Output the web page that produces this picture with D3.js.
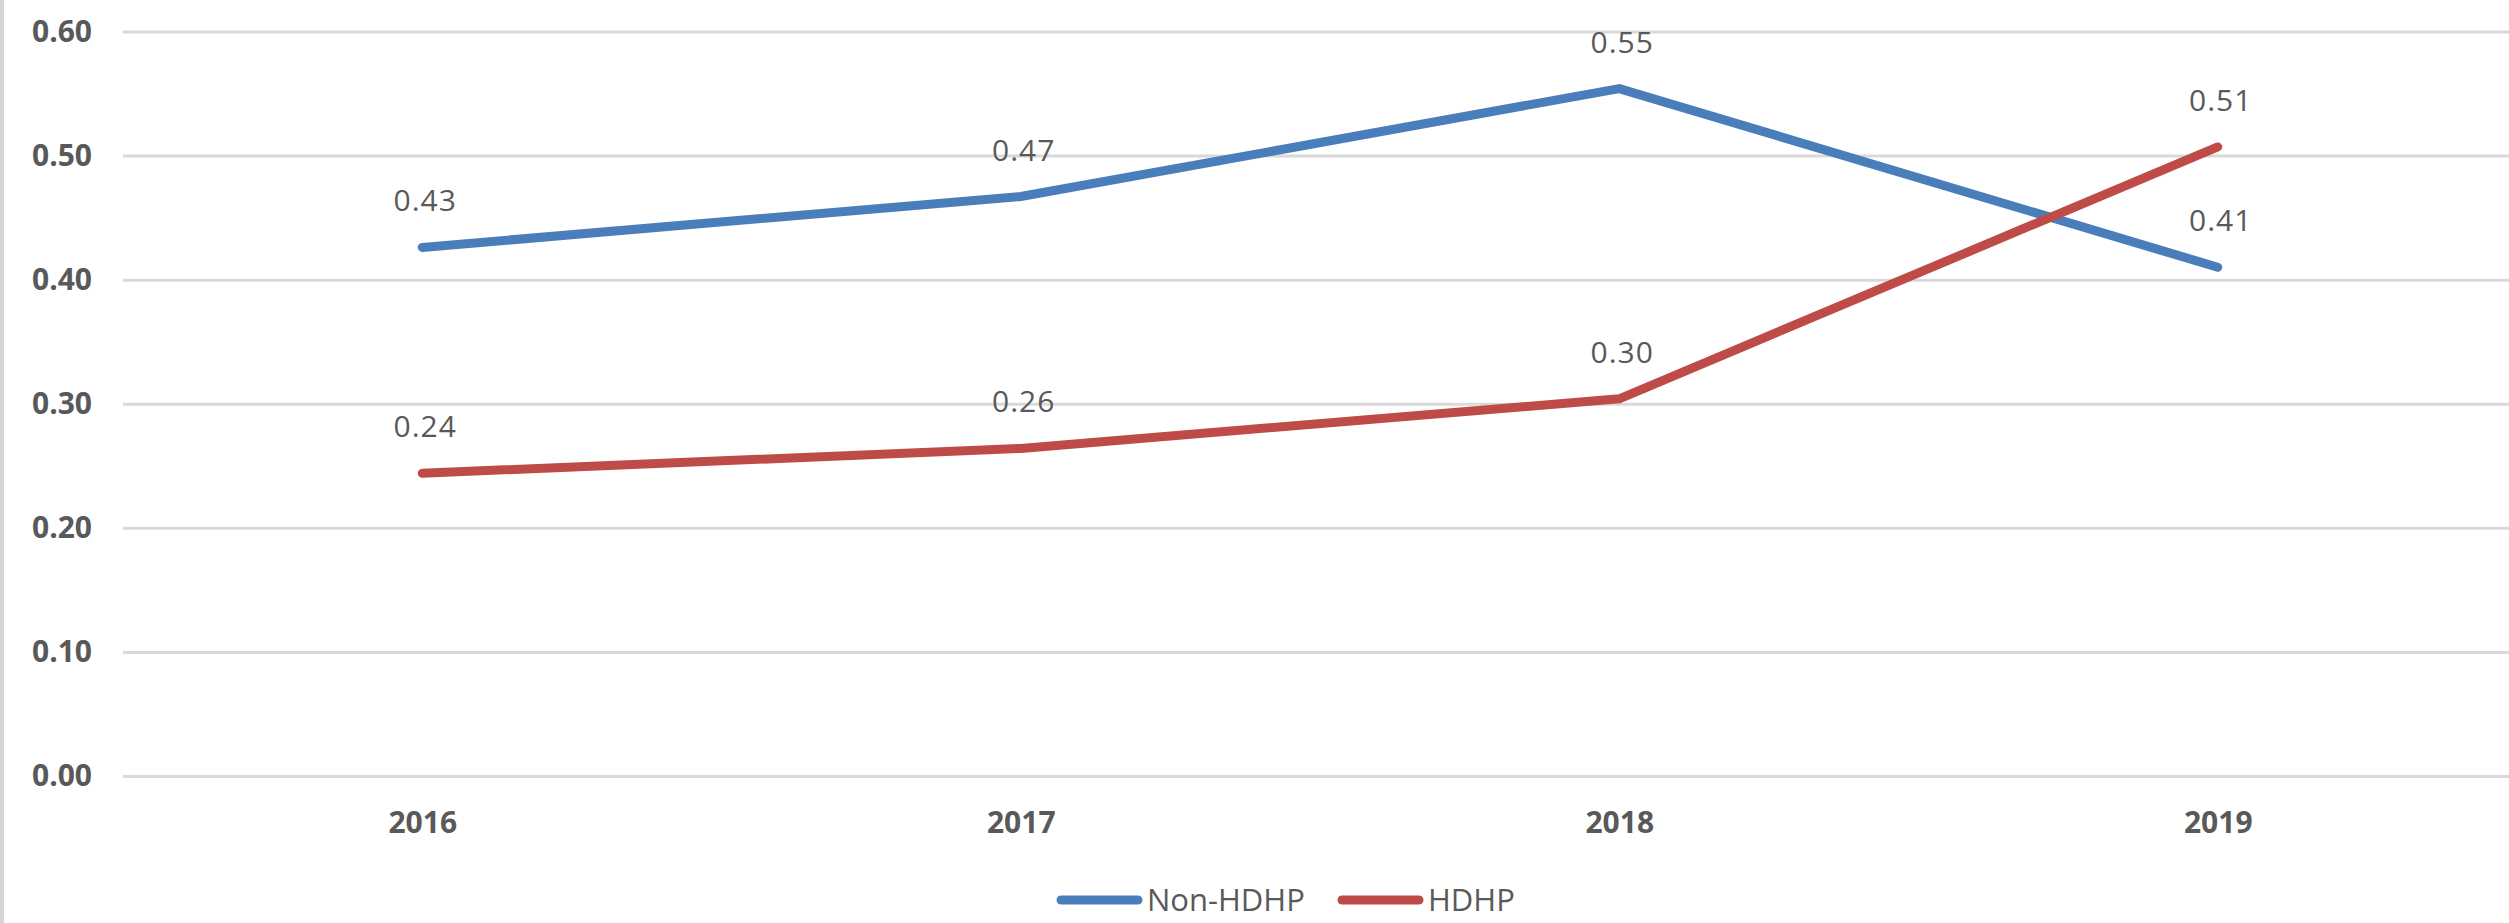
<!DOCTYPE html>
<html>
<head>
<meta charset="utf-8">
<script src="https://cdn.jsdelivr.net/npm/d3@7"></script>
<style>
  html, body { margin: 0; padding: 0; background: #ffffff; }
  svg { display: block; }
</style>
</head>
<body>
<svg id="chart" width="2509" height="923"></svg>
<script>
const categories = ["2016", "2017", "2018", "2019"];
const nonHdhp = [0.426, 0.467, 0.554, 0.410];
const hdhp = [0.244, 0.264, 0.304, 0.507];
const yTicks = [0, 0.1, 0.2, 0.3, 0.4, 0.5, 0.6];
const seriesNames = ["Non-HDHP", "HDHP"];
const seriesColors = ["#4A7EBB", "#BE4B48"];

(function () {
const W = 2509, H = 923;
const plotLeft = 123, plotRight = 2517, plotTop = 31.5, plotBottom = 776;
const font = "'Open Sans', 'Liberation Sans', sans-serif";
const textColor = "#595959";

const svg = d3.select("#chart");
svg.append("rect").attr("x", 0).attr("y", 0).attr("width", W).attr("height", H).attr("fill", "#fff");
// left border of the chart frame
svg.append("rect").attr("x", 0).attr("y", 0).attr("width", 4).attr("height", H).attr("fill", "#d4d4d4");

const x = d3.scalePoint().domain(categories).range([plotLeft, plotRight]).padding(0.5);
const y = d3.scaleLinear().domain([0, 0.6]).range([plotBottom, plotTop]);

// Y axis with gridlines
const yAxis = svg.append("g")
  .attr("transform", `translate(${plotLeft},0)`)
  .call(d3.axisLeft(y).tickValues(yTicks).tickFormat(d3.format(".2f"))
        .tickSize(-(W - plotLeft)).tickPadding(31));
yAxis.select(".domain").remove();
yAxis.selectAll(".tick line").attr("stroke", "#d9d9d9").attr("stroke-width", 3);
yAxis.selectAll(".tick text")
  .attr("fill", textColor).attr("font-family", font).attr("font-weight", "bold")
  .attr("font-size", 30);

// X axis labels
const xAxis = svg.append("g")
  .attr("transform", `translate(0,${plotBottom})`)
  .call(d3.axisBottom(x).tickSize(0).tickPadding(36));
xAxis.select(".domain").remove();
xAxis.selectAll(".tick text")
  .attr("fill", textColor).attr("font-family", font).attr("font-weight", "bold")
  .attr("font-size", 30);

const series = [nonHdhp, hdhp];
const line = d3.line().x((d, i) => x(categories[i])).y(d => y(d));

series.forEach((vals, si) => {
  svg.append("path")
    .datum(vals)
    .attr("d", line)
    .attr("fill", "none")
    .attr("stroke", seriesColors[si])
    .attr("stroke-width", 9)
    .attr("stroke-linecap", "round")
    .attr("stroke-linejoin", "round");
});

series.forEach((vals, si) => {
  svg.append("g").selectAll("text")
    .data(vals)
    .join("text")
    .attr("x", (d, i) => x(categories[i]) + 3)
    .attr("y", d => y(d) - 36)
    .attr("text-anchor", "middle")
    .attr("font-family", font)
    .attr("font-size", 30)
    .attr("letter-spacing", 1)
    .attr("fill", textColor)
    .text(d => d.toFixed(2));
});

// Legend
const legendY = 900;
const legendItems = [
  { name: seriesNames[0], color: seriesColors[0], x0: 1057 },
  { name: seriesNames[1], color: seriesColors[1], x0: 1338 }
];
const lg = svg.append("g");
legendItems.forEach(it => {
  lg.append("line")
    .attr("x1", it.x0 + 4).attr("x2", it.x0 + 81)
    .attr("y1", legendY).attr("y2", legendY)
    .attr("stroke", it.color).attr("stroke-width", 9).attr("stroke-linecap", "round");
  lg.append("text")
    .attr("x", it.x0 + 90).attr("y", legendY + 11)
    .attr("font-family", font).attr("font-size", 31)
    .attr("fill", textColor)
    .text(it.name);
});
})();
</script>
</body>
</html>
